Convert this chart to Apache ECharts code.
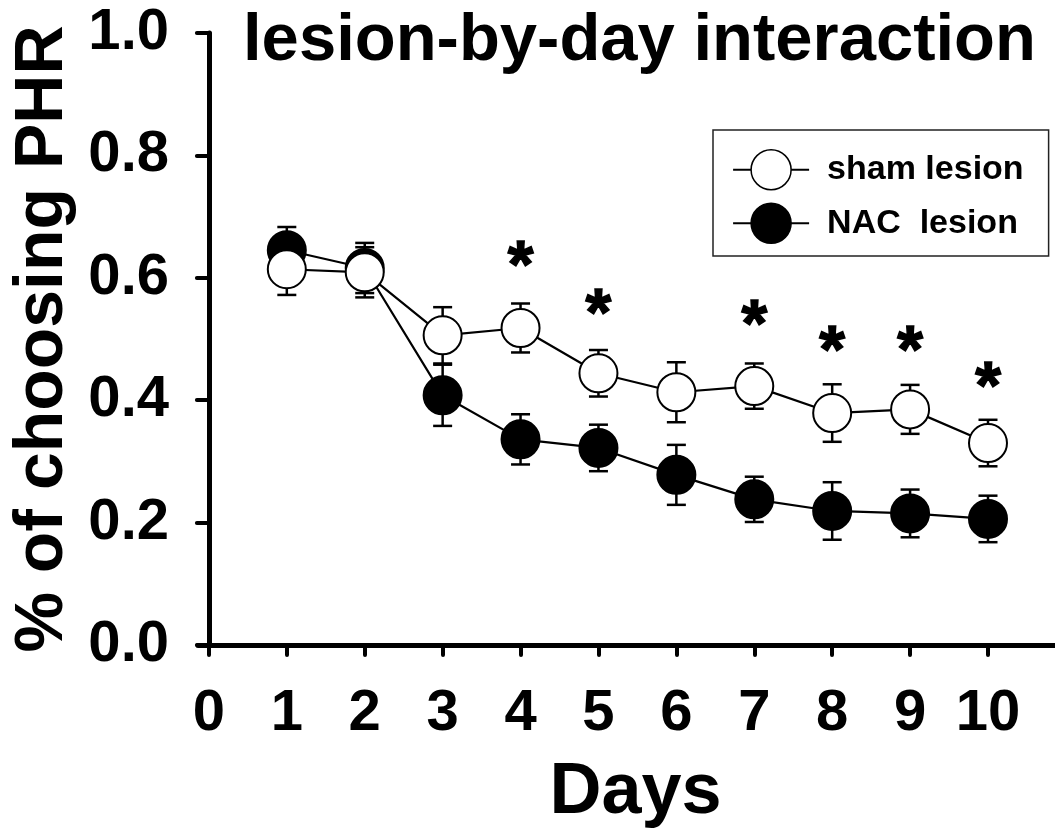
<!DOCTYPE html>
<html>
<head>
<meta charset="utf-8">
<script src="https://cdn.jsdelivr.net/npm/echarts@6/dist/echarts.min.js"></script>
<style>
html,body{margin:0;padding:0;background:#fff;}
#chart{width:1055px;height:836px;}
</style>
</head>
<body>
<div id="chart"></div>
<script>
const days = [1, 2, 3, 4, 5, 6, 7, 8, 9, 10];
const shamMean = [0.614, 0.609, 0.506, 0.518, 0.444, 0.413, 0.423, 0.379, 0.385, 0.330];
const shamSEM  = [0.042, 0.041, 0.046, 0.040, 0.038, 0.049, 0.037, 0.047, 0.040, 0.038];
const nacMean  = [0.645, 0.616, 0.408, 0.336, 0.322, 0.278, 0.238, 0.219, 0.215, 0.206];
const nacSEM   = [0.038, 0.041, 0.050, 0.041, 0.038, 0.049, 0.037, 0.047, 0.039, 0.038];
const starDays = [4, 5, 7, 8, 9, 10];
const starY    = [0.640, 0.560, 0.542, 0.500, 0.501, 0.442];
const xTicks = [0, 1, 2, 3, 4, 5, 6, 7, 8, 9, 10];
const seriesNames = ['sham lesion', 'NAC  lesion'];

const FONT = '"Liberation Sans", Arial, Helvetica, sans-serif';

function pairs(xs, ys) { return xs.map((x, i) => [x, ys[i]]); }
function errData(xs, m, e) { return xs.map((x, i) => [x, m[i] - e[i], m[i] + e[i]]); }

function renderErr(params, api) {
  const x = api.value(0);
  const pLo = api.coord([x, api.value(1)]);
  const pHi = api.coord([x, api.value(2)]);
  const hw = 9.5;
  const style = { stroke: '#000', lineWidth: 2.5, fill: null };
  return {
    type: 'group',
    children: [
      { type: 'line', shape: { x1: pLo[0], y1: pLo[1], x2: pHi[0], y2: pHi[1] }, style: style },
      { type: 'line', shape: { x1: pLo[0] - hw, y1: pLo[1], x2: pLo[0] + hw, y2: pLo[1] }, style: style },
      { type: 'line', shape: { x1: pHi[0] - hw, y1: pHi[1], x2: pHi[0] + hw, y2: pHi[1] }, style: style }
    ]
  };
}

const chart = echarts.init(document.getElementById('chart'), null, { renderer: 'canvas' });
chart.setOption({
  animation: false,
  backgroundColor: '#fff',
  title: {
    text: 'lesion-by-day interaction',
    left: 243,
    top: 8,
    padding: 0,
    textStyle: { fontFamily: FONT, fontWeight: 'bold', fontSize: 67, color: '#000' }
  },
  legend: {
    data: seriesNames,
    orient: 'vertical',
    left: 713,
    top: 130,
    padding: [19, 25, 12, 19],
    itemWidth: 76,
    itemHeight: 50,
    itemGap: 12,
    borderColor: '#222',
    borderWidth: 1.5,
    borderRadius: 0,
    textStyle: { fontFamily: FONT, fontWeight: 'bold', fontSize: 34, color: '#000', padding: [0, 0, 0, 13] },
    itemStyle: { borderWidth: 1.5 },
    lineStyle: { width: 2.2 }
  },
  grid: { left: 198, right: 0, top: 33, bottom: 191, containLabel: false, outerBoundsMode: 'none' },
  xAxis: {
    type: 'value',
    min: -0.14,
    max: 10.86,
    name: 'Days',
    nameLocation: 'middle',
    nameGap: 112,
    nameTextStyle: { fontFamily: FONT, fontWeight: 'bold', fontSize: 72, color: '#000', padding: [0, 0, 0, 18] },
    splitLine: { show: false },
    axisLine: { show: true, onZero: false, lineStyle: { color: '#000', width: 5, cap: 'round' } },
    axisTick: { show: true, customValues: xTicks, length: 10, lineStyle: { color: '#000', width: 4, cap: 'round' } },
    axisLabel: { customValues: xTicks, margin: 40, fontFamily: FONT, fontWeight: 'bold', fontSize: 58, color: '#000' }
  },
  yAxis: {
    type: 'value',
    min: 0,
    max: 1,
    interval: 0.2,
    name: '% of choosing PHR',
    nameLocation: 'middle',
    nameGap: 119,
    nameTextStyle: { fontFamily: FONT, fontWeight: 'bold', fontSize: 68, color: '#000' },
    splitLine: { show: false },
    axisLine: { show: true, onZero: true, lineStyle: { color: '#000', width: 5, cap: 'round' } },
    axisTick: { show: true, length: 12, lineStyle: { color: '#000', width: 4, cap: 'round' } },
    axisLabel: {
      margin: 29, fontFamily: FONT, fontWeight: 'bold', fontSize: 58, color: '#000',
      formatter: v => v.toFixed(1)
    }
  },
  series: [
    {
      type: 'custom', name: 'nacErr', z: 1, silent: true,
      renderItem: renderErr, encode: { x: 0, y: [1, 2] },
      data: errData(days, nacMean, nacSEM)
    },
    {
      type: 'custom', name: 'shamErr', z: 1, silent: true,
      renderItem: renderErr, encode: { x: 0, y: [1, 2] },
      data: errData(days, shamMean, shamSEM)
    },
    {
      type: 'line', name: seriesNames[1], z: 3,
      data: pairs(days, nacMean),
      symbol: 'circle', symbolSize: 38,
      lineStyle: { color: '#000', width: 2.2 },
      itemStyle: { color: '#000', borderColor: '#000', borderWidth: 2 }
    },
    {
      type: 'line', name: seriesNames[0], z: 4,
      data: pairs(days, shamMean),
      symbol: 'circle', symbolSize: 38,
      lineStyle: { color: '#000', width: 2.2 },
      itemStyle: { color: '#fff', borderColor: '#000', borderWidth: 2 }
    },
    {
      type: 'scatter', name: 'stars', z: 5, silent: true,
      data: pairs(starDays, starY),
      symbolSize: 2,
      itemStyle: { color: 'rgba(0,0,0,0)' },
      label: {
        show: true, position: 'inside', formatter: '*', offset: [0, 15],
        fontFamily: FONT, fontWeight: 'bold', fontSize: 66, color: '#000',
        textBorderColor: '#000', textBorderWidth: 1.5, opacity: 1
      }
    }
  ]
});
</script>
</body>
</html>
